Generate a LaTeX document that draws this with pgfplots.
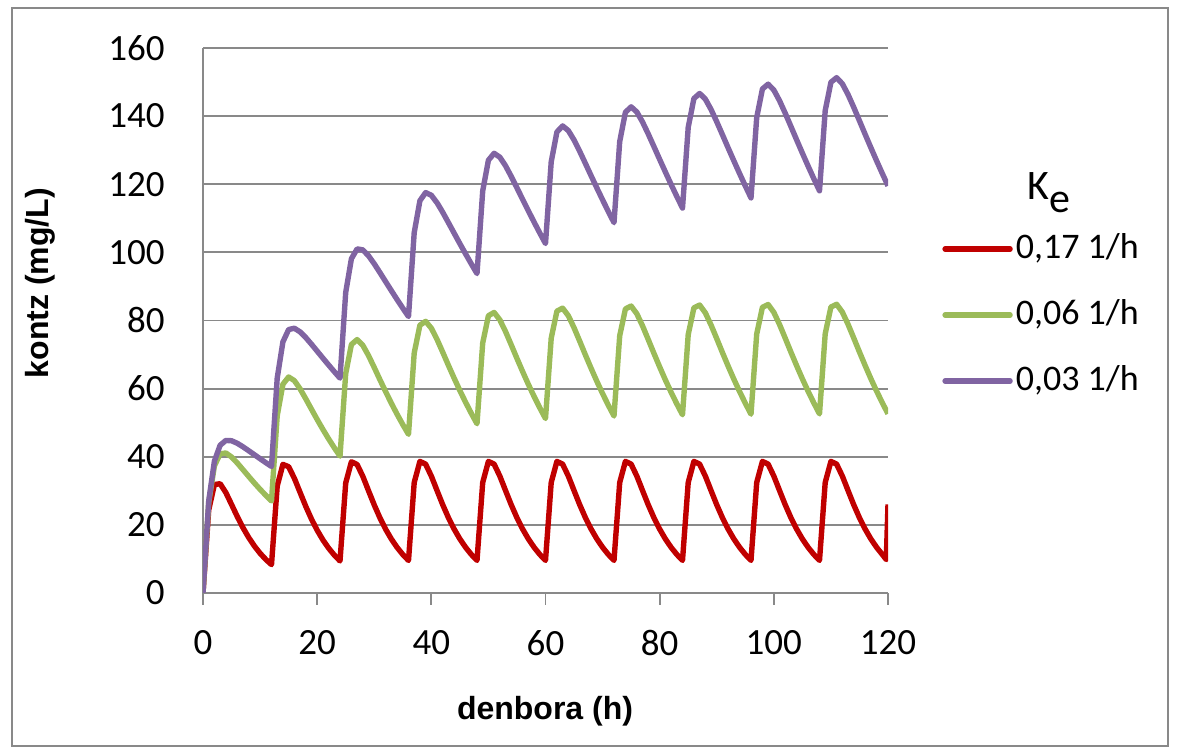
\documentclass[border=0pt]{standalone}
\usepackage{fontspec}
\setmainfont{Carlito}
\newfontfamily\arialf{Liberation Sans}
\usepackage{pgfplots}
\pgfplotsset{compat=1.18}
\definecolor{kred}{HTML}{C00000}
\definecolor{kgreen}{HTML}{9BBB59}
\definecolor{kpurple}{HTML}{8064A2}
\definecolor{kgrid}{HTML}{898989}
\begin{document}
\begin{tikzpicture}[x=0.5pt,y=0.5pt]
\useasboundingbox (0,0) rectangle (1180,754);
\draw[kgrid, line width=1.2pt] (12,8) rectangle (1168,746);
\begin{axis}[
  at={(101.5pt,80.5pt)}, anchor=south west,
  scale only axis, width=342.5pt, height=272.5pt,
  xmin=0, xmax=120, ymin=0, ymax=160,
  xtick={0,20,...,120}, ytick={0,20,...,160},
  axis x line*=bottom, axis y line*=left,
  axis line style={kgrid, line width=0.9pt, -},
  ymajorgrids, grid style={kgrid, line width=0.9pt},
  tick align=outside, major tick length=6pt,
  xtick style={kgrid, line width=0.9pt},
  ytick style={draw=none},
  ticklabel style={font=\fontsize{18.5}{21}\selectfont},
  /pgf/number format/assume math mode=true,
  yticklabel style={anchor=east, inner sep=0pt, xshift=-13pt},
  xticklabel style={anchor=north, inner sep=0pt, yshift=-12.5pt},
  legend cell align=left,
  legend image code/.code={\draw[#1, line width=2.7pt, line cap=round] (0pt,0pt) -- (32.5pt,0pt);},
  legend style={draw=none, fill=none, inner sep=0pt, at={(1.0788,0.510)}, anchor=west,
    font=\fontsize{18}{21}\selectfont, row sep=13pt,
    nodes={inner sep=1.5pt, text height=13pt, text depth=4pt}},
]
\addplot[kred, line width=2.7pt, line join=round] coordinates {
(0,0)(1,24.36)(2,31.83)(3,32.08)(4,29.48)(5,25.99)(6,22.45)(7,19.18)(8,16.29)(9,13.79)(10,11.66)(11,9.85)
(12,8.32)(13,31.39)(14,37.76)(15,37.07)(16,33.69)(17,29.55)(18,25.45)(19,21.71)(20,18.43)(21,15.59)(22,13.18)(23,11.13)
(24,9.40)(25,32.29)(26,38.53)(27,37.72)(28,34.24)(29,30.01)(30,25.84)(31,22.04)(32,18.71)(33,15.83)(34,13.38)(35,11.30)
(36,9.54)(37,32.43)(38,38.64)(39,37.82)(40,34.32)(41,30.08)(42,25.89)(43,22.08)(44,18.75)(45,15.86)(46,13.41)(47,11.32)
(48,9.56)(49,32.43)(50,38.64)(51,37.82)(52,34.32)(53,30.08)(54,25.89)(55,22.08)(56,18.75)(57,15.86)(58,13.41)(59,11.32)
(60,9.56)(61,32.43)(62,38.64)(63,37.82)(64,34.32)(65,30.08)(66,25.89)(67,22.08)(68,18.75)(69,15.86)(70,13.41)(71,11.32)
(72,9.56)(73,32.43)(74,38.64)(75,37.82)(76,34.32)(77,30.08)(78,25.89)(79,22.08)(80,18.75)(81,15.86)(82,13.41)(83,11.32)
(84,9.56)(85,32.43)(86,38.64)(87,37.82)(88,34.32)(89,30.08)(90,25.89)(91,22.08)(92,18.75)(93,15.86)(94,13.41)(95,11.32)
(96,9.56)(97,32.43)(98,38.64)(99,37.82)(100,34.32)(101,30.08)(102,25.89)(103,22.08)(104,18.75)(105,15.86)(106,13.41)(107,11.32)
(108,9.56)(109,32.43)(110,38.64)(111,37.82)(112,34.32)(113,30.08)(114,25.89)(115,22.08)(116,18.75)(117,15.86)(118,13.41)(119,11.32)
(119.7,9.8)(120,26)
};
\addlegendentry{0,17 1/h}
\addplot[kgreen, line width=2.7pt, line join=round] coordinates {
(0,0)(1,26.57)(2,37.32)(3,40.85)(4,41.10)(5,39.93)(6,38.17)(7,36.21)(8,34.23)(9,32.28)(10,30.43)(11,28.68)
(12,27.02)(13,52.02)(14,61.28)(15,63.41)(16,62.35)(17,59.95)(18,57.02)(19,53.96)(20,50.94)(21,48.03)(22,45.26)(23,42.64)
(24,40.17)(25,64.41)(26,72.95)(27,74.40)(28,72.70)(29,69.69)(30,66.20)(31,62.60)(32,59.09)(33,55.69)(34,52.48)(35,49.44)
(36,46.58)(37,70.44)(38,78.63)(39,79.75)(40,77.74)(41,74.44)(42,70.67)(43,66.81)(44,63.05)(45,59.42)(46,55.99)(47,52.75)
(48,49.69)(49,73.38)(50,81.40)(51,82.36)(52,80.19)(53,76.75)(54,72.84)(55,68.86)(56,64.98)(57,61.24)(58,57.70)(59,54.36)
(60,51.21)(61,74.80)(62,82.74)(63,83.62)(64,81.39)(65,77.87)(66,73.90)(67,69.85)(68,65.92)(69,62.13)(70,58.54)(71,55.14)
(72,51.95)(73,75.50)(74,83.39)(75,84.24)(76,81.97)(77,78.42)(78,74.41)(79,70.34)(80,66.37)(81,62.55)(82,58.94)(83,55.53)
(84,52.31)(85,75.84)(86,83.72)(87,84.54)(88,82.25)(89,78.68)(90,74.67)(91,70.57)(92,66.59)(93,62.76)(94,59.14)(95,55.72)
(96,52.49)(97,76.01)(98,83.87)(99,84.69)(100,82.39)(101,78.82)(102,74.79)(103,70.69)(104,66.71)(105,62.87)(106,59.24)(107,55.81)
(108,52.57)(109,76.08)(110,83.95)(111,84.76)(112,82.46)(113,78.88)(114,74.85)(115,70.75)(116,66.76)(117,62.91)(118,59.28)(119,55.85)
(120,52.61)
};
\addlegendentry{0,06 1/h}
\addplot[kpurple, line width=2.7pt, line join=round] coordinates {
(0,0)(1,27.02)(2,38.73)(3,43.38)(4,44.78)(5,44.70)(6,43.95)(7,42.92)(8,41.77)(9,40.60)(10,39.42)(11,38.27)
(12,37.15)(13,63.07)(14,73.72)(15,77.33)(16,77.73)(17,76.67)(18,74.99)(19,73.04)(20,71.00)(21,68.96)(22,66.95)(23,64.98)
(24,63.07)(25,88.22)(26,98.14)(27,101.02)(28,100.72)(29,98.99)(30,96.64)(31,94.05)(32,91.39)(33,88.75)(34,86.15)(35,83.61)
(36,81.16)(37,105.78)(38,115.17)(39,117.55)(40,116.76)(41,114.55)(42,111.75)(43,108.70)(44,105.62)(45,102.55)(46,99.55)(47,96.62)
(48,93.77)(49,118.02)(50,127.05)(51,129.08)(52,127.94)(53,125.41)(54,122.28)(55,118.93)(56,115.54)(57,112.18)(58,108.89)(59,105.69)
(60,102.58)(61,126.56)(62,135.34)(63,137.12)(64,135.75)(65,132.99)(66,129.63)(67,126.07)(68,122.46)(69,118.90)(70,115.41)(71,112.01)
(72,108.72)(73,132.52)(74,141.12)(75,142.73)(76,141.20)(77,138.27)(78,134.76)(79,131.04)(80,127.29)(81,123.59)(82,119.96)(83,116.43)
(84,113.00)(85,136.68)(86,145.16)(87,146.65)(88,145.00)(89,141.96)(90,138.34)(91,134.52)(92,130.66)(93,126.86)(94,123.14)(95,119.51)
(96,115.99)(97,139.57)(98,147.97)(99,149.38)(100,147.65)(101,144.53)(102,140.84)(103,136.94)(104,133.01)(105,129.14)(106,125.35)(107,121.65)
(108,118.08)(109,141.60)(110,149.94)(111,151.29)(112,149.50)(113,146.33)(114,142.58)(115,138.63)(116,134.65)(117,130.74)(118,126.89)(119,123.16)
(120,119.53)
};
\addlegendentry{0,03 1/h}
\end{axis}
\node[anchor=base west, inner sep=0pt, font=\fontsize{21}{24}\selectfont] at (1027,554) {K\raisebox{-6.5pt}{e}};
\node[anchor=base, inner sep=0pt, font=\arialf\bfseries\fontsize{16}{19}\selectfont] at (545,34) {denbora (h)};
\node[rotate=90, anchor=center, inner sep=0pt, font=\arialf\bfseries\fontsize{16}{19}\selectfont] at (40,471) {kontz (mg/L)};
\end{tikzpicture}
\end{document}
